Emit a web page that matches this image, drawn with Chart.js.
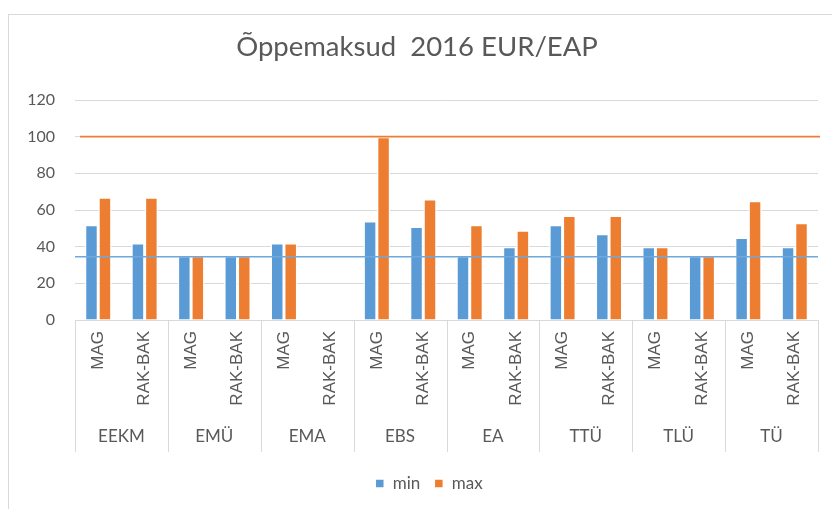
<!DOCTYPE html>
<html>
<head>
<meta charset="utf-8">
<script src="https://cdn.jsdelivr.net/npm/chart.js@4.4.1/dist/chart.umd.min.js"></script>
<style>
  body { margin: 0; background: #fff; overflow: hidden; }
  #wrap { position: relative; width: 832px; height: 509px; }
  #frame { position: absolute; left: 8px; top: 14px; width: 840px; height: 520px; border: 1px solid #d9d9d9; }
  canvas { position: absolute; left: 0; top: 0; }
</style>
</head>
<body>
<div id="wrap">
  <div id="frame"></div>
  <canvas id="chart" width="832" height="509"></canvas>
</div>
<script>
// andmed
const groups = ["EEKM", "EMÜ", "EMA", "EBS", "EA", "TTÜ", "TLÜ", "TÜ"];
const levels = ["MAG", "RAK-BAK"];
const minValues = [52, 42, 35, 35, 42, null, 54, 51, 35, 40, 52, 47, 40, 35, 45, 40];
const maxValues = [67, 67, 35, 35, 42, null, 100, 66, 52, 49, 57, 57, 40, 35, 65, 53];
const refValues = [100, 34.5]; // horisontaalsed jooned
const yTicks = [0, 20, 40, 60, 80, 100, 120];

const blue = "#5B9BD5";
const orange = "#ED7D31";
const textColor = "#595959";
const lineGray = "#d9d9d9";

// iga grupi alla MAG ja RAK-BAK
const innerLabels = [];
groups.forEach(() => levels.forEach(l => innerLabels.push(l)));

// viitejooned, grupi eraldusjooned ja pealkirja/legendi nihe
const extras = {
  id: "extras",
  afterLayout(chart) {
    chart.titleBlock.left += 16;
    chart.legend.left += 40;
  },
  afterDatasetsDraw(chart) {
    const { ctx, chartArea, scales } = chart;
    const refColors = [orange, "#6FA8DC"];
    ctx.save();
    ctx.lineWidth = 1.6;
    refValues.forEach((v, i) => {
      const y = scales.y.getPixelForValue(v);
      ctx.strokeStyle = refColors[i];
      ctx.beginPath();
      ctx.moveTo(chartArea.left + (i === 0 ? 5 : 0), y);
      ctx.lineTo(chartArea.right + (i === 0 ? 2 : 0), y);
      ctx.stroke();
    });
    ctx.restore();
  },
  afterDraw(chart) {
    const { ctx, chartArea, scales } = chart;
    const x2 = scales.x2;
    ctx.save();
    ctx.strokeStyle = lineGray;
    ctx.lineWidth = 1;
    for (let i = 0; i <= groups.length; i++) {
      const x = Math.round(x2.getPixelForValue(i - 0.5)) + 0.5;
      ctx.beginPath();
      ctx.moveTo(x, chartArea.bottom);
      ctx.lineTo(x, chartArea.bottom + 132);
      ctx.stroke();
    }
    ctx.restore();
  }
};

const ctx = document.getElementById("chart").getContext("2d");
new Chart(ctx, {
  type: "bar",
  data: {
    labels: innerLabels,
    datasets: [
      { label: "min", data: minValues, backgroundColor: blue, borderColor: "#fff", borderWidth: 1.5 },
      { label: "max", data: maxValues, backgroundColor: orange, borderColor: "#fff", borderWidth: 1.5 }
    ]
  },
  options: {
    responsive: false,
    animation: false,
    categoryPercentage: 0.58,
    barPercentage: 1,
    layout: { padding: { left: 0, right: 14, top: 0, bottom: 7 } },
    plugins: {
      title: {
        display: true,
        text: "Õppemaksud  2016 EUR/EAP",
        color: textColor,
        font: { family: "Lato", size: 27.5, weight: "normal" },
        padding: { top: 31, bottom: 36 }
      },
      legend: {
        position: "bottom",
        labels: {
          color: textColor,
          font: { family: "Lato", size: 17 },
          boxWidth: 9,
          boxHeight: 9,
          padding: 14
        }
      },
      tooltip: { enabled: false }
    },
    scales: {
      y: {
        min: 0,
        max: 120,
        afterBuildTicks(scale) { scale.ticks = yTicks.map(v => ({ value: v })); },
        afterFit(scale) { scale.width = 75; },
        ticks: { color: textColor, font: { family: "Lato", size: 16 }, padding: 20 },
        grid: { color: lineGray, drawTicks: false },
        border: { display: false }
      },
      x: {
        afterFit(scale) { scale.height = 85; },
        ticks: {
          color: textColor,
          font: { family: "Liberation Sans", size: 17 },
          minRotation: 90,
          maxRotation: 90,
          autoSkip: false,
          padding: 11
        },
        grid: { display: false, drawTicks: false },
        border: { display: true, color: lineGray }
      },
      x2: {
        type: "category",
        labels: groups,
        position: "bottom",
        offset: true,
        afterFit(scale) { scale.height = 56; },
        ticks: { color: textColor, font: { family: "Lato", size: 17 }, padding: 21, autoSkip: false, maxRotation: 0 },
        grid: { display: false, drawTicks: false },
        border: { display: false }
      }
    }
  },
  plugins: [extras]
});
</script>
</body>
</html>
